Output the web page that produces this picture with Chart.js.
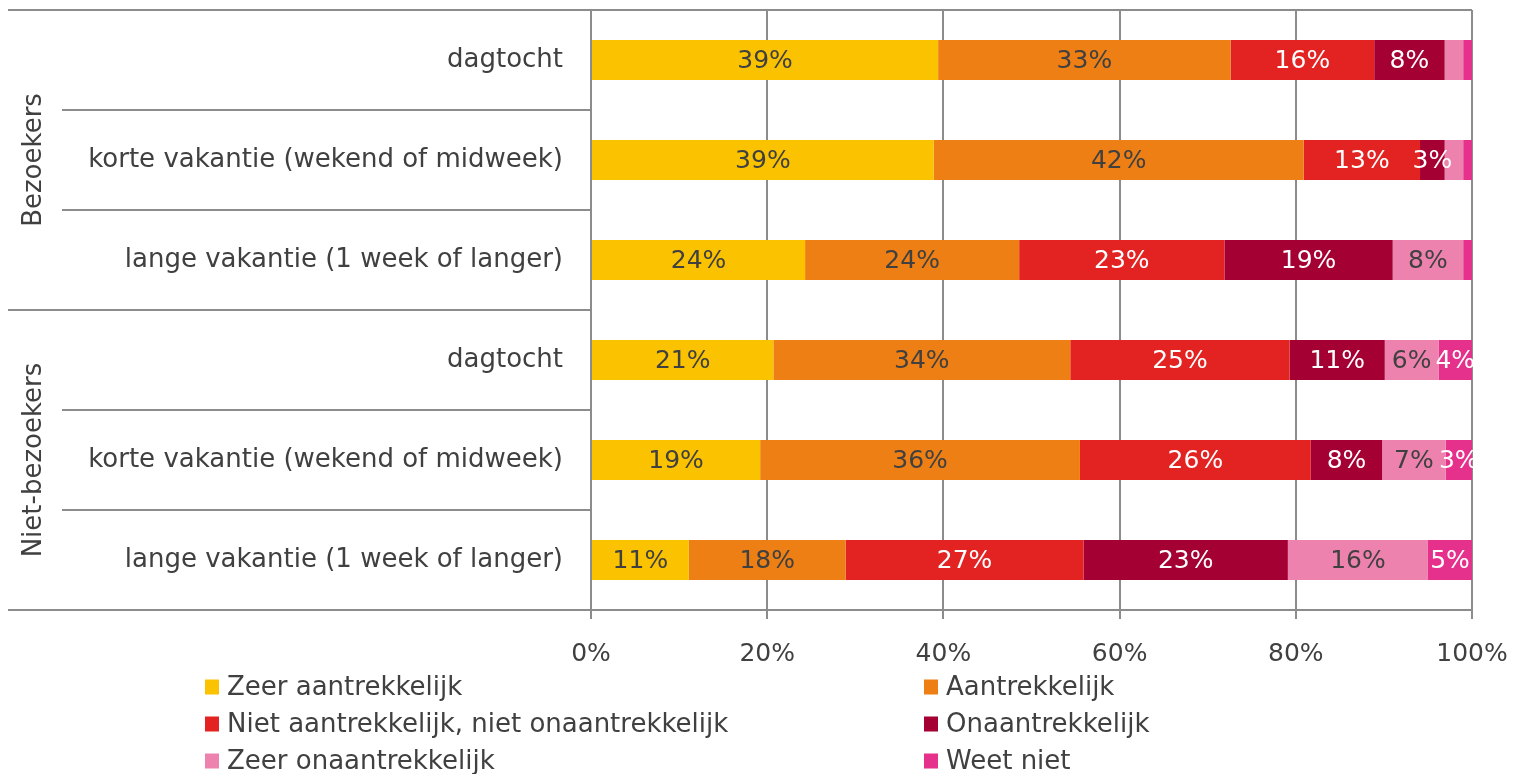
<!DOCTYPE html>
<html>
<head>
<meta charset="utf-8">
<script src="https://cdn.jsdelivr.net/npm/chart.js@4"></script>
<style>
  body { margin: 0; background: #fff; }
  #wrap { width: 1513px; height: 774px; position: relative; }
</style>
</head>
<body>
<div id="wrap"><canvas id="grafiek"></canvas></div>
<script>
// categorieën (van boven naar beneden)
const categorieen = [
  'dagtocht',
  'korte vakantie (wekend of midweek)',
  'lange vakantie (1 week of langer)',
  'dagtocht',
  'korte vakantie (wekend of midweek)',
  'lange vakantie (1 week of langer)'
];
const groepen = ['Bezoekers', 'Niet-bezoekers'];
const groepGrootte = 3;

// reeksen (percentages)
const zeerAantrekkelijk = [39.4, 38.9, 24.3, 20.7, 19.2, 11.1];
const aantrekkelijk     = [33.2, 42.0, 24.3, 33.7, 36.3, 17.8];
const neutraal          = [16.3, 13.2, 23.3, 24.9, 26.2, 27.0];
const onaantrekkelijk   = [8.0, 2.8, 19.1, 10.8, 8.1, 23.2];
const zeerOnaantr       = [2.1, 2.1, 8.0, 6.1, 7.2, 15.9];
const weetNiet          = [1.0, 1.0, 1.0, 3.8, 3.0, 5.0];

const xTicks = [0, 20, 40, 60, 80, 100];

const reeksen = [
  { label: 'Zeer aantrekkelijk', data: zeerAantrekkelijk, kleur: '#FBC200', tekst: '#404040' },
  { label: 'Aantrekkelijk', data: aantrekkelijk, kleur: '#EE7F14', tekst: '#404040' },
  { label: 'Niet aantrekkelijk, niet onaantrekkelijk', data: neutraal, kleur: '#E32322', tekst: '#ffffff' },
  { label: 'Onaantrekkelijk', data: onaantrekkelijk, kleur: '#A50034', tekst: '#ffffff' },
  { label: 'Zeer onaantrekkelijk', data: zeerOnaantr, kleur: '#EE82AE', tekst: '#404040' },
  { label: 'Weet niet', data: weetNiet, kleur: '#E5318B', tekst: '#ffffff' }
];

const FONT = 'DejaVu Sans, Verdana, sans-serif';
const LIJN = '#8c8c8c';
const TEKST = '#404040';

// ---- eigen tekenwerk: lijnen, groepslabels, waarden, legenda ----
const extras = {
  id: 'extras',
  afterDatasetsDraw(chart) {
    const ctx = chart.ctx;
    const area = chart.chartArea;
    const y = chart.scales.y;

    // waarden in de balken
    ctx.save();
    ctx.font = '25px ' + FONT;
    ctx.textAlign = 'center';
    ctx.textBaseline = 'middle';
    chart.data.datasets.forEach((ds, di) => {
      const meta = chart.getDatasetMeta(di);
      meta.data.forEach((bar, i) => {
        const v = ds.data[i];
        if (v < 2.5) return;
        ctx.fillStyle = reeksen[di].tekst;
        ctx.fillText(Math.round(v) + '%', (bar.x + bar.base) / 2, bar.y + 1);
      });
    });
    ctx.restore();

    // horizontale scheidingslijnen
    ctx.save();
    ctx.strokeStyle = LIJN;
    ctx.lineWidth = 2;
    const lijn = (x1, x2, yy) => {
      ctx.beginPath();
      ctx.moveTo(x1, yy);
      ctx.lineTo(x2, yy);
      ctx.stroke();
    };
    lijn(8, area.right, area.top);
    lijn(8, area.right, area.bottom);
    for (let i = 0; i < categorieen.length - 1; i++) {
      const yy = Math.round((y.getPixelForValue(i) + y.getPixelForValue(i + 1)) / 2);
      const start = (i + 1) % groepGrootte === 0 ? 8 : 62;
      lijn(start, area.left, yy);
    }
    ctx.restore();

    // groepslabels (gedraaid)
    ctx.save();
    ctx.font = '26px ' + FONT;
    ctx.fillStyle = TEKST;
    ctx.textAlign = 'center';
    ctx.textBaseline = 'middle';
    groepen.forEach((g, gi) => {
      const a = y.getPixelForValue(gi * groepGrootte);
      const b = y.getPixelForValue(gi * groepGrootte + groepGrootte - 1);
      ctx.save();
      ctx.translate(34, (a + b) / 2);
      ctx.rotate(-Math.PI / 2);
      ctx.fillText(g, 0, 0);
      ctx.restore();
    });
    ctx.restore();

    // legenda in twee kolommen
    ctx.save();
    ctx.font = '26px ' + FONT;
    ctx.textBaseline = 'middle';
    const kolX = [205, 924];
    const rijY = [687, 724, 761];
    reeksen.forEach((r, i) => {
      const kx = kolX[i % 2];
      const ry = rijY[Math.floor(i / 2)];
      ctx.fillStyle = r.kleur;
      ctx.fillRect(kx, ry - 7.5, 14, 15);
      ctx.fillStyle = TEKST;
      ctx.fillText(r.label, kx + 22, ry + 1);
    });
    ctx.restore();
  }
};

new Chart(document.getElementById('grafiek'), {
  type: 'bar',
  data: {
    labels: categorieen,
    datasets: reeksen.map(r => ({
      label: r.label,
      data: r.data,
      backgroundColor: r.kleur,
      borderWidth: 0,
      categoryPercentage: 1,
      barPercentage: 0.4
    }))
  },
  options: {
    indexAxis: 'y',
    responsive: true,
    maintainAspectRatio: false,
    animation: false,
    layout: { padding: { top: 10, right: 41, left: 0, bottom: 0 } },
    plugins: {
      legend: { display: false },
      tooltip: { enabled: false }
    },
    scales: {
      x: {
        stacked: true,
        min: 0,
        max: 100,
        afterBuildTicks: scale => { scale.ticks = xTicks.map(v => ({ value: v })); },
        afterFit: scale => {
          scale.height = 164;
          scale.paddingLeft = 0;
          scale.paddingRight = 0;
        },
        ticks: {
          callback: v => v + '%',
          font: { family: FONT, size: 25 },
          color: TEKST,
          padding: 20,
          maxRotation: 0
        },
        grid: { color: LIJN, lineWidth: 2, tickLength: 9 },
        border: { display: true, color: LIJN, width: 2 }
      },
      y: {
        stacked: true,
        afterFit: scale => {
          scale.width = 591;
          scale.paddingTop = 0;
          scale.paddingBottom = 0;
        },
        ticks: {
          font: { family: FONT, size: 26 },
          color: TEKST,
          padding: 28
        },
        grid: { display: false, drawTicks: false },
        border: { display: false }
      }
    }
  },
  plugins: [extras]
});
</script>
</body>
</html>
